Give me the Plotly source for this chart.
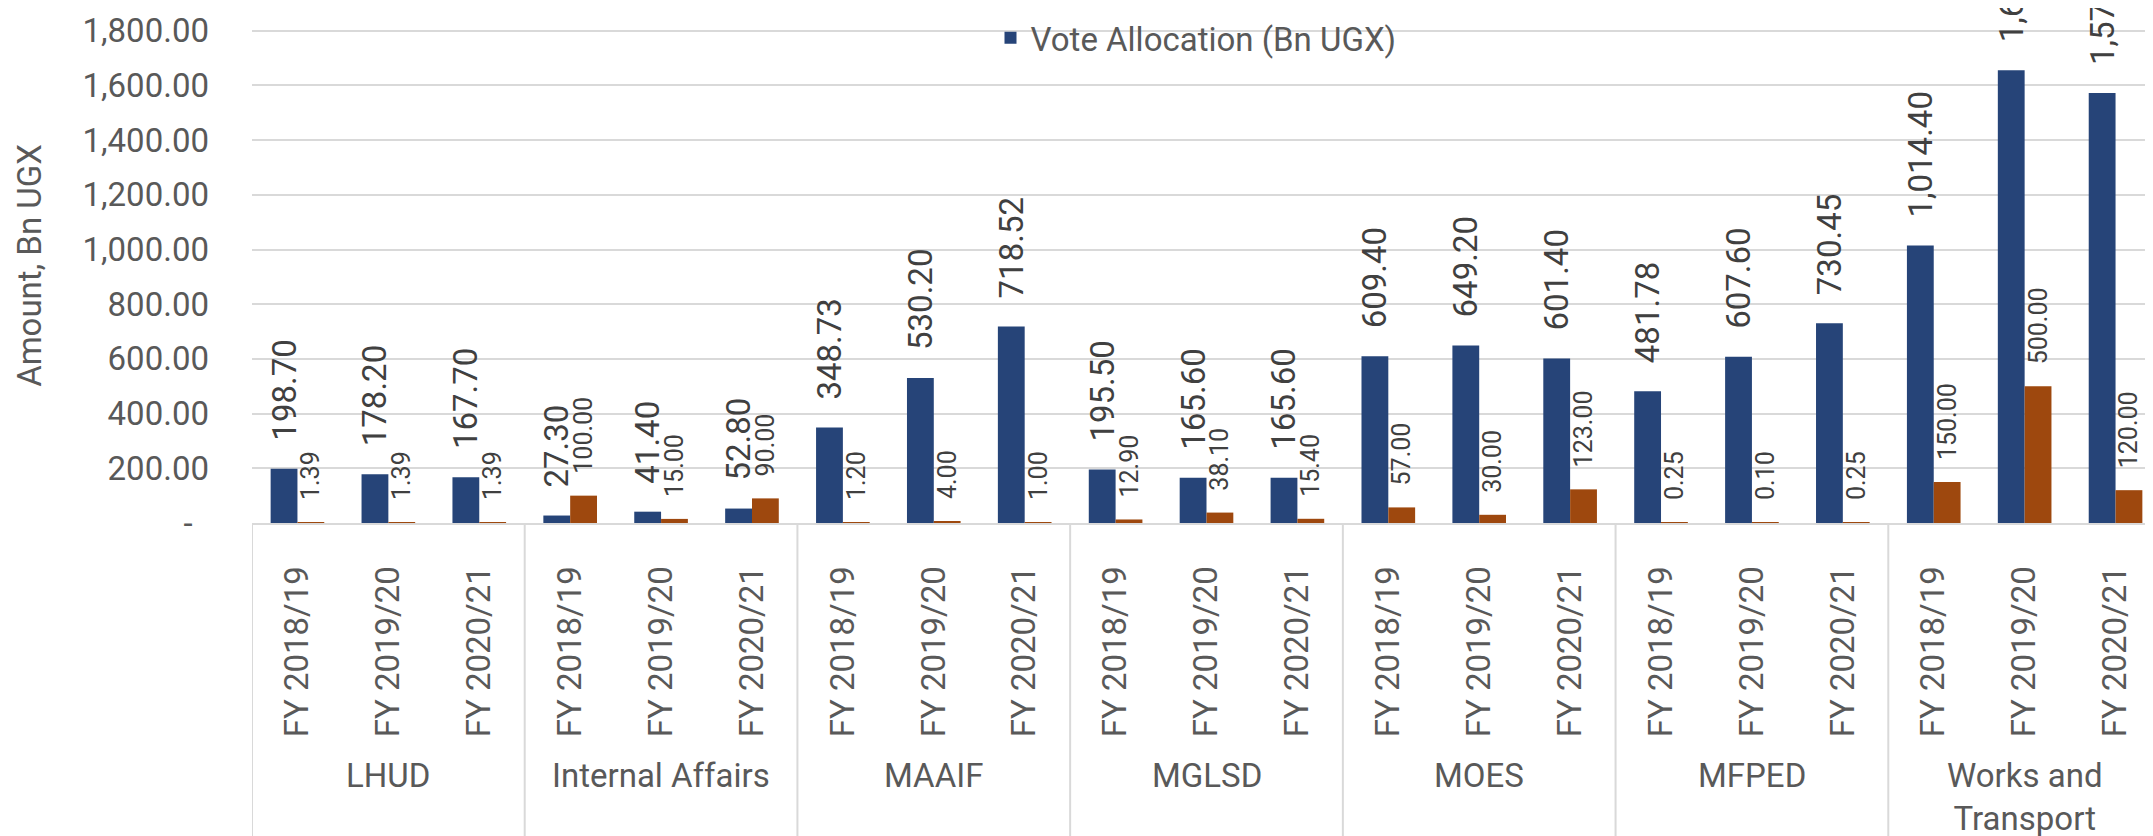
import plotly.graph_objects as go

years = ["FY 2018/19", "FY 2019/20", "FY 2020/21"]
ministries = ["LHUD", "Internal Affairs", "MAAIF", "MGLSD", "MOES", "MFPED", "Works and<br>Transport"]

# one value per ministry/year, in ministry order
vote_allocation = [198.70, 178.20, 167.70,
                   27.30, 41.40, 52.80,
                   348.73, 530.20, 718.52,
                   195.50, 165.60, 165.60,
                   609.40, 649.20, 601.40,
                   481.78, 607.60, 730.45,
                   1014.40, 1655.00, 1572.00]
second_series = [1.39, 1.39, 1.39,
                 100.00, 15.00, 90.00,
                 1.20, 4.00, 1.00,
                 12.90, 38.10, 15.40,
                 57.00, 30.00, 123.00,
                 0.25, 0.10, 0.25,
                 150.00, 500.00, 120.00]

y_ticks = [0, 200, 400, 600, 800, 1000, 1200, 1400, 1600, 1800]

FONT = "Roboto, Lato, sans-serif"
GREY = "#595959"
GRID = "#d9d9d9"
PAD = "\u2002\u00a0"  # lifts the rotated value labels off the bar tops

x_pos = list(range(len(vote_allocation)))
x_labels = [years[i % 3] for i in x_pos]

fig = go.Figure()
fig.add_trace(go.Bar(
    name="Vote Allocation (Bn UGX)",
    x=x_pos, y=vote_allocation,
    marker=dict(color="#264478", line=dict(width=0)),
    text=[PAD + f"{v:,.2f}" for v in vote_allocation],
    textposition="outside", textangle=-90, constraintext="none",
    textfont=dict(family=FONT, size=33, color="#404040"),
    cliponaxis=False,
))
fig.add_trace(go.Bar(
    name="Other",
    x=x_pos, y=second_series,
    marker=dict(color="#9e480e", line=dict(width=0)),
    text=[PAD + f"{v:,.2f}" for v in second_series],
    textposition="outside", textangle=-90, constraintext="none",
    textfont=dict(family=FONT, size=25, color="#404040"),
    cliponaxis=False,
    showlegend=False,
))

# group dividers below the axis
for k in range(len(ministries) + 1):
    fig.add_shape(type="line", xref="x", yref="paper",
                  x0=3 * k - 0.5, x1=3 * k - 0.5, y0=0, y1=-0.7,
                  line=dict(color=GRID, width=2))

for k, name in enumerate(ministries):
    fig.add_annotation(x=3 * k + 1, y=-0.449, xref="x", yref="paper",
                       text=name, showarrow=False, yanchor="top",
                       font=dict(family=FONT, size=33, color=GREY))

fig.update_layout(
    width=2153, height=836,
    margin=dict(l=244, r=0, t=0, b=321),
    paper_bgcolor="white", plot_bgcolor="white",
    barmode="group", bargap=0.41, bargroupgap=0,
    legend=dict(orientation="h", x=0.4945, xanchor="center", y=0.942, yanchor="middle",
                bgcolor="rgba(0,0,0,0)",
                font=dict(family=FONT, size=33, color=GREY)),
    xaxis=dict(
        range=[-0.5, len(x_pos) - 0.5],
        tickvals=x_pos, ticktext=x_labels, tickangle=-90,
        tickfont=dict(family=FONT, size=33, color=GREY),
        ticklabelstandoff=28, automargin=False,
        showgrid=False, showline=True, linecolor=GRID, linewidth=2,
        zeroline=False,
    ),
    yaxis=dict(
        range=[0, 1883],
        tickvals=y_ticks,
        ticktext=[f"{v:,.2f}" if v else "-\u00a0\u00a0" for v in y_ticks],
        tickfont=dict(family=FONT, size=33, color=GREY),
        ticklabelstandoff=42, automargin=False,
        showgrid=True, gridcolor=GRID, gridwidth=2,
        zeroline=False,
        title=dict(text="Amount, Bn UGX", standoff=30,
                   font=dict(family=FONT, size=33, color=GREY)),
    ),
)

fig.write_html("out.html")
